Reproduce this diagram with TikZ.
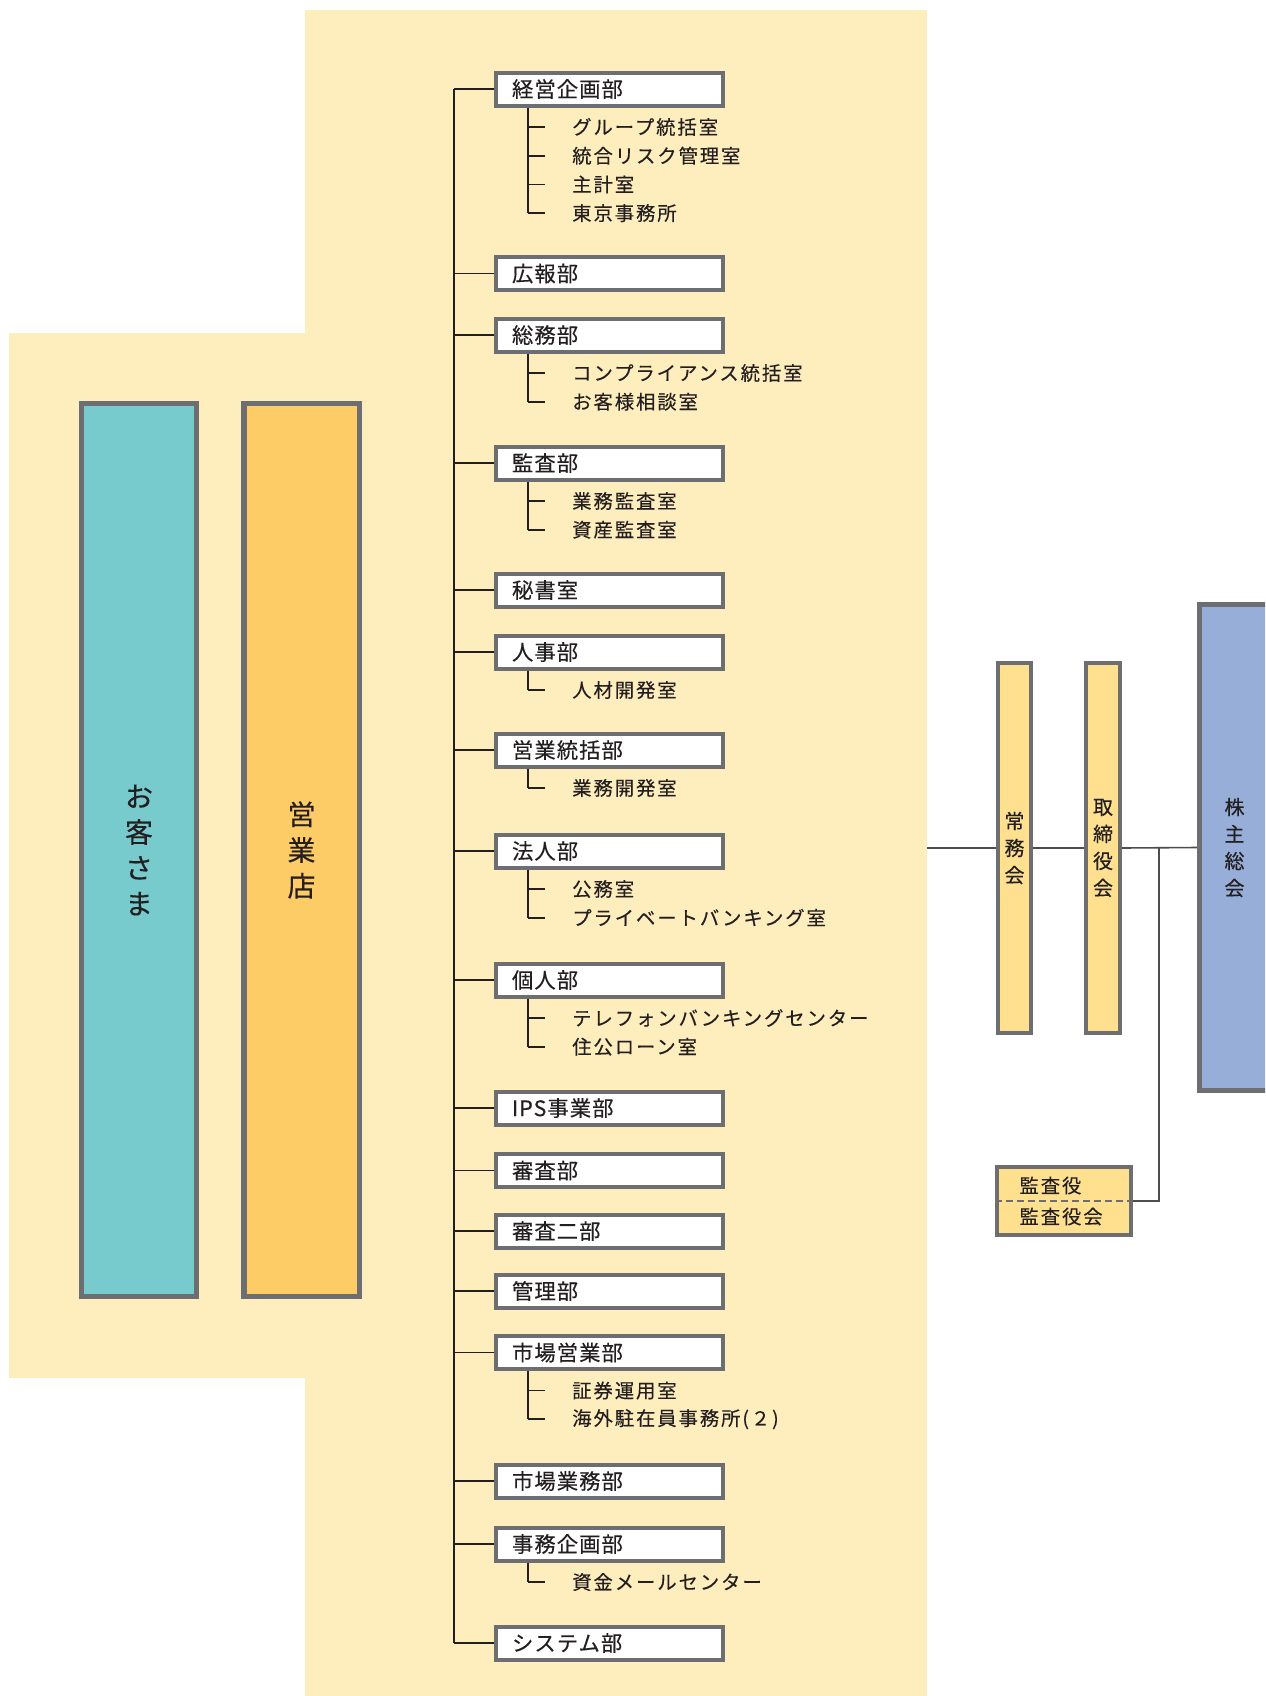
\documentclass[tikz,border=0pt]{standalone}
\usepackage{fontspec}
\newfontfamily\jp{Noto Sans CJK JP}[FakeBold=0.3]
\newfontfamily\jpA{Noto Sans CJK JP}[LetterSpace=5,FakeBold=0.3]
\newfontfamily\jpB{Noto Sans CJK JP}[LetterSpace=10,FakeBold=0.3]
\definecolor{bg}{HTML}{FEEDBD}
\definecolor{cyanbox}{HTML}{78CBCD}
\definecolor{orangebox}{HTML}{FECC66}
\definecolor{yelbox}{HTML}{FEE08F}
\definecolor{bluebox}{HTML}{96AED8}
\definecolor{bordergray}{HTML}{6D6E71}
\definecolor{ink}{HTML}{231F20}
\definecolor{linegray}{HTML}{4D4D4F}
\tikzset{
  deptbox/.style={draw=bordergray, fill=white, line width=3pt, minimum height=24.75pt,
    text width=146.25pt, inner xsep=12pt, inner ysep=0pt, align=left,
    font=\jpA\fontsize{16}{19}\selectfont, text=ink},
  childtext/.style={anchor=west, inner sep=0pt, font=\jpB\fontsize{14.5}{17}\selectfont, text=ink},
  trunkline/.style={draw=ink, line width=1.2pt},
  rightline/.style={draw=linegray, line width=1.2pt},
  bigbox/.style={draw=bordergray, line width=4.1pt, minimum width=85.875pt, minimum height=669.4pt,
    inner sep=0pt, align=center, font=\jp\fontsize{21}{26.8}\selectfont, text=ink},
  vbox/.style={draw=bordergray, fill=yelbox, line width=2.8pt, minimum width=24.75pt, minimum height=277.5pt,
    inner sep=0pt, align=center, font=\jp\fontsize{15}{20.25}\selectfont, text=ink},
  kabubox/.style={draw=bordergray, fill=bluebox, line width=3.75pt, minimum width=52.5pt, minimum height=364.5pt,
    inner sep=0pt, align=center, font=\jp\fontsize{15}{20.25}\selectfont, text=ink},
  kansabox/.style={draw=bordergray, fill=yelbox, line width=3pt, minimum width=100.5pt, minimum height=51pt,
    text width=66.75pt, inner xsep=16.875pt, inner ysep=0pt, align=left,
    font=\jpB\fontsize{14.5}{23.25}\selectfont, text=ink}
}
\newcommand\dept[3]{%
  \node[deptbox] (#1) at (609.5,#2) {#3};
  \draw[trunkline] (#1.west) -- (trunk |- #1.west);}
\newcommand\subs[4]{%
  \foreach \cname [count=\ci] in {#4} {
    \node[childtext] (#1c\ci) at (572,{#2+38+(\ci-1)*28.7}) {\cname};
    \draw[trunkline] (sub |- #1c\ci.west) -- ++(17,0);
  }
  \draw[trunkline] (sub |- #1.south) -- (sub |- #1c#3.west);}
\begin{document}
\begin{tikzpicture}[x=0.75pt,y=-0.75pt]
\useasboundingbox (0,0) rectangle (1265,1696);
% backgrounds
\fill[bg] (305,10) rectangle (927,1696);
\fill[bg] (9,333) rectangle (305,1378);
\coordinate (trunk) at (454,0);
\coordinate (sub) at (528,0);
\coordinate (regR) at (927,848);
% customer / branch
\node[bigbox, fill=cyanbox] (cust) at (139,850) {お\\客\\さ\\ま};
\node[bigbox, fill=orangebox, minimum width=86.6pt] (branch) at (301.5,850) {営\\業\\店};
% departments
\dept{d1}{89}{経営企画部}
\dept{d2}{273.5}{広報部}
\dept{d3}{335}{総務部}
\dept{d4}{463}{監査部}
\dept{d5}{590}{秘書室}
\dept{d6}{652}{人事部}
\dept{d7}{750}{営業統括部}
\dept{d8}{851}{法人部}
\dept{d9}{980}{個人部}
\dept{d10}{1108}{IPS事業部}
\dept{d11}{1170.5}{審査部}
\dept{d12}{1231}{審査二部}
\dept{d13}{1291}{管理部}
\dept{d14}{1352.5}{市場営業部}
\dept{d15}{1481}{市場業務部}
\dept{d16}{1544}{事務企画部}
\dept{d17}{1643}{システム部}
\draw[trunkline] (trunk |- d1.west) -- (trunk |- d17.west);
\subs{d1}{89}{4}{グループ統括室,統合リスク管理室,主計室,東京事務所}
\subs{d3}{335}{2}{コンプライアンス統括室,お客様相談室}
\subs{d4}{463}{2}{業務監査室,資産監査室}
\subs{d6}{652}{1}{人材開発室}
\subs{d7}{750}{1}{業務開発室}
\subs{d8}{851}{2}{公務室,プライベートバンキング室}
\subs{d9}{980}{2}{テレフォンバンキングセンター,住公ローン室}
\subs{d14}{1352.5}{2}{証券運用室,海外駐在員事務所(２)}
\subs{d16}{1544}{1}{資金メールセンター}
% right side
\node[vbox] (jomu) at (1014.5,848) {常\\務\\会};
\node[vbox, minimum width=25.5pt] (tori) at (1103,848) {取\\締\\役\\会};
\begin{scope}
\clip (0,0) rectangle (1265,1696);
\node[kabubox] (kabu) at (1234.5,847.5) {株\\主\\総\\会};
\end{scope}
\node[kansabox] (kansa) at (1064,1201) {監査役\\監査役会};
\draw[draw=bordergray, line width=1.1pt, dash pattern=on 5.25pt off 3pt] (kansa.west) -- (kansa.east);
\coordinate (jn) at (1159,848);
\draw[rightline] (regR) -- (jomu.west);
\draw[rightline] (jomu.east) -- (tori.west);
\draw[rightline] (tori.east) -- (kabu.west);
\draw[rightline] (jn) |- (kansa.east);
\end{tikzpicture}
\end{document}
